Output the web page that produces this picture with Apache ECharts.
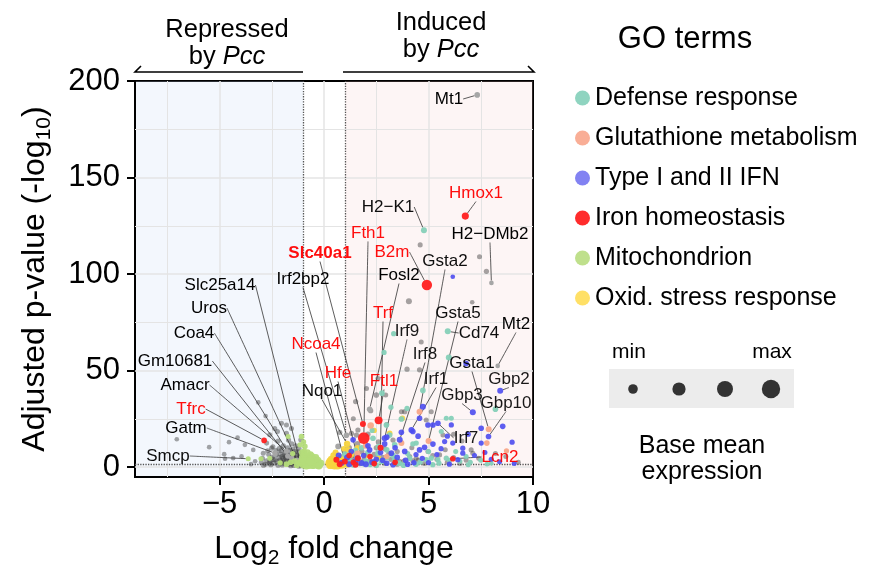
<!DOCTYPE html>
<html><head><meta charset="utf-8">
<script src="https://cdn.jsdelivr.net/npm/echarts@6.0.0/dist/echarts.min.js"></script>
<style>html,body{margin:0;padding:0;background:#fff}#c{width:875px;height:574px}</style>
</head><body><div id="c"></div>
<script>
// ---------- DATA: [log2FC, -log10 padj, log10 base mean] ----------
const otherPts = [
 [-7.05,14.4,1.3],[-5.5,10.3,1.3],[-4.55,12.9,1.3],[-4.14,15.3,1.3],[-3.79,11.5,1.3],[-3.39,8.9,1.3],[-4.78,6.7,1.3],[-4.74,4.3,1.3],[-3.95,5.5,1.3],[-4.35,4.6,1.3],
 [-3.15,33.5,1.3],[-2.8,26.4,1.3],[-2.6,16.7,1.5],[-2.36,20,1.5],[-2.04,22.7,1.5],[-2.23,18.4,1.5],[-1.8,17.5,1.5],[-1.56,20,1.5],[-2.51,9.8,1.5],[-2.75,12.4,1.5],
 [-2.91,7.2,1.5],[-1.8,21.8,1.5],[-2.2,13.5,1.6],[-1.95,11,1.6],[-1.7,14,1.6],[-1.5,9,1.8],[-3.3,3,1.3],[-3.5,1.5,1.3],[-2.95,4.5,1.5],[-2.65,6.5,1.5],
 [-2.15,9.5,1.6],[-1.95,3,1.8],[-1.6,0.8,1.8],[-1.05,3,1.8],[-1.1,1,1.8],[-3.0,2.5,1.5],[-2.8,1.5,1.5],[-2.6,3,1.6],[-2.5,5,1.6],[-2.4,2,1.6],
 [-2.3,6.5,1.6],[-2.2,1,1.6],[-2.1,3.5,1.8],[-2.0,5.5,1.8],[-1.9,2,1.8],[-1.85,7.5,1.8],[-1.8,4,1.8],[-1.7,1.5,1.8],[-1.65,6,1.8],[-1.6,3,1.8],
 [-1.5,5,1.8],[-1.45,1,1.8],[-1.4,8,1.8],[-1.35,2,1.8],[-1.3,6,1.8],[-1.25,1.2,1.8],[-1.2,4.5,1.8],[-1.15,2.5,1.8],[-1.1,7,1.8],[-2.7,8.5,1.5],
 [-2.45,10.5,1.5],[-2.05,8.5,1.6],[-1.75,10,1.6],[-1.55,12,1.6],[-1.35,11,1.6],[-1.2,9.5,1.6],[-1.11,14.1,1.6],[-2.55,1.2,1.6],[-2.35,3.8,1.6],[-1.15,5.8,1.8],
 [-1.4,4.2,1.8],[-1.85,5.2,1.8],[-2.1,6.8,1.6],
 [-2.9,1,1.6],[-2.75,3.2,1.6],[-2.45,4,1.7],[-2.25,2.8,1.7],[-2.0,1.2,1.8],[-1.95,4.5,1.8],[-1.75,3,1.8],[-1.55,1.8,1.8],[-1.45,6.8,1.8],[-1.3,4.8,1.8],
 [-1.2,0.6,1.8],[-1.65,8.5,1.7],[-1.9,6.2,1.7],[-2.3,8.5,1.6],[-2.05,2.2,1.8],[-1.5,3.8,1.8],[-1.25,7.8,1.8],[-1.7,4.8,1.8],[-2.15,4.8,1.7],[-2.6,2,1.6],
 [4.6,115.1,1.5],[7.44,108.9,1.5],[7.77,101.4,1.6],[4.06,85.9,2],[7.09,85.4,1.3],[3.97,50.7,1.6],[4.57,50.4,1.6],[2.58,45.9,1.5],[2.5,37.3,1.8],[2.95,37.3,1.5],
 [1.51,33.9,1.6],[2.23,29.2,1.6],[2.03,40.7,1.5],[1.62,19.2,1.6],[1.55,16.6,1.6],[1.31,17.5,1.6],[0.67,10.7,1.8],[3.86,28.7,1.6],[3.7,28.7,1.5],[5.13,28.7,1.5],
 [4.89,24.4,1.5],[5.69,16.6,1.5],[7.04,8.9,1.5],[7.12,7.2,1.5],[4.97,8.1,1.5],[5.53,6.3,1.5],[4.41,4.6,1.5],[4.25,3.2,1.5],[2.42,2.9,1.5],[4.65,64.8,1.5],
 [1.0,8,1.8],[1.2,10,1.8],[1.5,6,1.8],[1.8,8,1.8],[2.2,3,1.8],[2.5,10,1.6],[2.8,5,1.6],[3.2,4,1.6],[3.5,8,1.6],[3.8,3,1.6],
 [4.2,10,1.5],[4.5,3.5,1.5],[5.2,6,1.5],[5.8,9,1.5],[6.2,5,1.5],[6.8,3.5,1.5],[7.4,4.5,1.5],[8.2,7,1.5],[0.8,4,1.8],[1.6,12,1.8],
 [2.1,17,1.6],[2.6,13,1.6],[3.0,22,1.5],[1.4,25,1.5],[0.75,18,1.6],[1.1,3,2],[1.7,2,2],[2.9,2,1.6],[3.5,1.5,1.6],[6.6,13.5,1.5],
 [8.7,5.5,1.5],[9.3,2.5,1.4],[5.9,2.5,1.5],[3.3,14,1.6],[6.2,17,1.5],
 [1.3,4.5,1.8],[1.9,3.5,1.7],[2.4,6.5,1.7],[3.1,7,1.6],[3.6,3,1.6],[4.1,5.5,1.5],[4.8,1.8,1.5],[5.4,4,1.5],[6.5,1.8,1.5],[2.9,9.5,1.6]
];
const mitoPts = [
 [-3.02,4.3,1.5],[-1.08,15.8,1.8],[-0.92,10.7,1.8],[-1.72,15.8,1.5],[-1.0,1,2.5],[-0.9,3,3],[-0.8,1.5,3],[-0.7,4,3],[-0.6,2,3],[-0.5,1,2.8],
 [-0.45,3,2.5],[-0.35,1.5,2.5],[-0.3,0.8,2.5],[-0.2,1.2,2.2],[-0.85,5.5,2.5],[-0.65,6.5,2.2],[-0.75,2.5,3],[-0.55,4.5,2.5],[-0.4,2.2,2.5],[-1.05,5,2.2],
 [-1.2,2,2],[-1.4,3,2],[-1.6,2.5,1.8],[-1.8,1.5,1.8],[-2.1,2.2,1.6],[-0.95,8,2],[-1.3,1,2],[-0.25,2.8,2],[-1.15,11.5,1.6],[-0.98,13,1.6],
 [-2.6,4.5,1.5],[0.9,3,1.5],[1.4,2,1.5],[-1.5,7,1.6],
 [-1.1,2.5,2.8],[-1.0,4,2.8],[-0.95,6.5,2.6],[-0.85,0.8,3],[-0.7,1.2,3.2],[-0.6,5.5,2.8],[-0.5,3.5,3],[-0.4,5,2.5],[-0.3,3.5,2.6],[-0.15,2,2.4],
 [-1.05,7.5,2.4],[-0.8,7.5,2.4],[-0.55,1.2,3.2],[-0.25,0.6,2.6],[-0.65,3,3.2]
];
const oxidPts = [
 [0.3,1,3],[0.4,2.5,3.5],[0.5,0.8,3],[0.6,3.5,2.8],[0.7,1.5,2.8],[0.35,4,2.5],[0.8,5,2.2],[0.9,2,2.2],[1.0,4,2.2],[0.45,6,2.2],
 [0.95,9.5,1.8],[1.15,8.9,1.8],[3.14,17.5,1.8],[3.75,25.3,1.8],[1.6,10,1.8],[2.0,6,1.8],[1.3,6.5,2],[2.6,5,1.5],[1.25,2.5,2],[0.55,7.5,2],[2.4,19,1.6],
 [0.25,2,3],[0.55,2.2,3.2],[0.65,0.8,3],[0.75,3,2.8],[0.85,1,2.6],[0.3,3,3],[0.45,1.5,3.3],[1.1,1.3,2.2]
];
const defensePts = [
 [5.97,56.7,2],[8.2,30,1.8],[3.33,69.1,1.6],[2.87,59.4,1.6],[4.73,39.7,1.8],[2.77,38.3,1.8],[5.85,25.3,1.5],[6.09,25.3,1.5],[5.61,18.4,1.5],[4.41,12.4,1.6],
 [5.13,4.6,1.6],[5.85,4.6,1.6],[5.45,3.8,1.6],[4.89,3.8,1.6],[3.7,24.9,1.8],[3.97,30.4,1.6],[2.98,21.8,1.8],[3.14,16.6,1.8],[2.34,14.9,1.8],[3.38,11.5,1.8],
 [2.58,7.2,1.8],[4.09,4.6,1.8],[3.38,3.8,1.8],[2.74,2.9,1.8],[6.5,3,1.5],[7.0,2.5,1.5],[5.5,2,1.6],[4.0,7,1.6],[3.0,9,1.8],[2.0,3,2],
 [1.5,8.5,1.8],[1.2,3.5,2],[3.6,2,1.8],[4.6,2.5,1.6],[5.0,8,1.6],[6.8,5.5,1.5],[7.5,3.5,1.5],[3.2,31,1.6],[2.3,19,1.6],[1.8,10,1.8],
 [4.25,12,1.6],[1.6,5.5,2],[2.2,1.5,2],[3.0,5,1.8],[6.3,8,1.5],[8.0,2,1.4],
 [1.0,6.5,2],[1.4,1.2,2],[1.9,1.8,2],[2.5,1,1.9],[3.3,6,1.8],[3.8,1,1.8],[4.4,1.5,1.7],[5.2,1.2,1.6],[6.0,3.5,1.5],[6.9,1.2,1.5],
 [7.8,1.5,1.4],[2.1,7.5,1.8],[2.6,10.5,1.8]
];
const glutPts = [
 [2.23,21.5,2.3],[3.7,12.4,2],[7.79,12.4,1.8],[8.73,8.4,1.6],[2.0,11,2],[1.6,7,2],[3.0,5.5,1.8]
];
const ifnPts = [
 [6.16,98.6,1.3],[6.8,53.6,1.8],[8.55,21.1,1.8],[7.52,20.1,1.8],[4.73,31.3,2],[4.57,25.3,1.8],[4.97,21.8,1.8],[6.09,21.8,1.6],[5.77,13.2,1.6],[6.16,12.4,1.6],
 [6.64,9.8,1.6],[6.64,7.2,1.6],[7.52,12.4,1.6],[9.0,12.9,1.6],[4.25,18.4,1.8],[5.21,11.9,1.8],[4.81,10.2,1.8],[4.57,8.9,1.8],[1.39,14.1,1.8],[3.22,7.2,1.8],
 [3.86,8.1,1.8],[2.18,8.9,1.8],[0.83,2.1,2],[1.79,2.1,2],[1.1,5,2],[1.5,3,2],[2.0,1.5,2],[2.5,4,1.8],[3.0,2,1.8],[3.5,5,1.8],
 [4.0,1.5,1.8],[2.7,7.5,1.8],[1.3,8,1.8],[0.7,6,2],[3.4,10,1.8],[4.4,6.5,1.6],[5.0,2.3,1.6],[6.0,1.5,1.6],[7.2,6,1.5],[8.0,4,1.5],
 [9.1,1.8,1.5],[5.21,21.8,1.8],[2.9,12,1.8],[4.5,16,1.8],[5.6,9.5,1.6],[3.7,18,1.8],[1.9,6,1.8],
 [1.2,1.5,2],[1.6,4.5,2],[2.3,2.5,1.9],[2.8,3.5,1.8],[3.3,1.2,1.8],[3.9,3.5,1.8],[4.3,2.2,1.7],[4.7,4.5,1.7],[5.4,6.5,1.6],[6.4,3.8,1.6],
 [7.7,7.5,1.5],[8.4,2.8,1.5],[2.1,11,1.8],[3.0,15.5,1.8],[5.9,16,1.6],[6.9,17,1.6]
];
const ironPts = [
 [1.2,6,1.8],[2.2,5.5,1.8],[1.4,2.5,1.8],[0.59,3.8,2],[0.75,1.5,2],[1.5,1.2,2],[2.4,1.8,1.8],[3.4,2.5,1.8]
];
// labelled genes: [name, category, log2FC, -log10 padj, log10 base mean]
const genes = [
 ['Mt1','other',7.33,192.8,1.8],['Hmox1','iron',6.76,130,2.6],['H2−K1','defense',4.78,122.7,2],['H2−DMb2','other',8.01,95.4,1.3],
 ['B2m','iron',4.92,94.3,4.3],['Fth1','iron',1.9,15,5],['Slc40a1','iron',1.86,22.3,2],['Ftl1','iron',2.61,24.2,3],
 ['Tfrc','iron',-2.87,13.8,1.8],['Lcn2','iron',6.16,4.3,1.8],['Trf','iron',2.7,10,2],['Hfe','iron',1.62,4.6,2],['Ncoa4','iron',0.99,2.9,2],
 ['Nqo1','oxid',1.1,12,2.2],['Irf2bp2','other',1.07,16.5,1.8],['Fosl2','other',2.18,29.9,1.8],
 ['Gsta2','glut',4.57,28.7,2],['Gsta5','glut',5.0,13.5,2],['Gsta1','glut',7.88,19.6,2],['Cd74','defense',5.92,70.3,2],['Mt2','other',8.31,52.4,1.3],
 ['Gbp2','ifn',8.43,39.5,2],['Gbp3','ifn',7.12,28.4,2],['Gbp10','ifn',7.87,15.8,1.8],['Irf7','ifn',5.45,22.7,1.8],['Irf1','ifn',4.18,19.2,2],
 ['Irf8','ifn',3.62,14.1,2],['Irf9','ifn',2.9,14.9,2],
 ['Slc25a14','other',-1.16,3.1,1.5],['Uros','other',-1.3,3.6,1.5],['Coa4','other',-1.55,4.6,1.6],['Gm10681','other',-1.74,5.7,1.6],
 ['Amacr','other',-1.8,8.2,1.6],['Gatm','other',-2.35,7.2,1.6],['Smcp','mito',-3.63,4.3,1.5]
];
const redLabels = ['Hmox1','B2m','Fth1','Slc40a1','Ftl1','Tfrc','Lcn2','Trf','Hfe','Ncoa4'];
const categories = ['Defense response','Glutathione metabolism','Type I and II IFN','Iron homeostasis','Mitochondrion','Oxid. stress response'];
const xTicks = [-5,0,5,10];
const yTicks = [0,50,100,150,200];
const xGridVals = [-7.5,-5,-2.5,0,2.5,5,7.5];
const yGridVals = [0,25,50,75,100,125,150,175];
const fcCut = 1, padjCut = 1.3;

// ---------- LAYOUT (label pixel positions) ----------
const labelAt = {
 'Mt1':[449,99],'Hmox1':[476,193],'H2−K1':[388,207],'H2−DMb2':[490,234],'Fth1':[368,233],'B2m':[392,252],'Gsta2':[445,261],
 'Fosl2':[399,275],'Slc40a1':[320,253],'Irf2bp2':[303,279],'Slc25a14':[220,285],'Uros':[209,308],'Coa4':[194,333],'Gm10681':[175,361],
 'Amacr':[185,385],'Tfrc':[191,409],'Gatm':[186,428],'Smcp':[168,456],'Ncoa4':[316,344],'Hfe':[338,373],'Nqo1':[322,391],
 'Trf':[383,313],'Irf9':[407,331],'Irf8':[425,354],'Ftl1':[384,381],'Irf1':[436,379],'Gsta5':[458,313],'Cd74':[479,333],
 'Mt2':[516,324],'Gsta1':[472,363],'Gbp2':[509,379],'Gbp3':[462,395],'Gbp10':[506,403],'Irf7':[466,438],'Lcn2':[500,457]
};
const FONT = 'Liberation Sans, Arial, Helvetica, sans-serif';
const cats = [
 {key:'other', name:'Other', color:'#3a3a3a', opacity:0.45, labColor:'#a6a6a6', pts:otherPts},
 {key:'mito', name:categories[4], color:'#b4dc7a', opacity:0.95, pts:mitoPts, legend:'#bfe08c'},
 {key:'oxid', name:categories[5], color:'#f7d43e', opacity:0.95, pts:oxidPts, legend:'#ffe066'},
 {key:'defense', name:categories[0], color:'#86d0b8', opacity:0.95, pts:defensePts, legend:'#8fd4c0'},
 {key:'glut', name:categories[1], color:'#f8a688', opacity:0.95, pts:glutPts, legend:'#f9ae96'},
 {key:'ifn', name:categories[2], color:'#4d4def', opacity:0.9, pts:ifnPts, legend:'#8282f2'},
 {key:'iron', name:categories[3], color:'#ff1f1f', opacity:0.95, pts:ironPts, legend:'#ff2c2c'}
];

function labelLayout(p){
  const pos = labelAt[p.text];
  if(!pos) return {};
  return {x:pos[0], y:pos[1], align:'center', verticalAlign:'middle'};
}

const series = [];
series.push({
  type:'scatter', data:[], silent:true, z:1,
  markArea:{silent:true, z:0, itemStyle:{borderWidth:0}, data:[
    [{xAxis:-9.05, itemStyle:{color:'rgba(200,218,245,0.22)'}},{xAxis:-fcCut}],
    [{xAxis:fcCut, itemStyle:{color:'rgba(245,200,200,0.18)'}},{xAxis:10}]
  ]},
  markLine:{silent:true, z:1, symbol:['none','none'], label:{show:false},
    lineStyle:{color:'#e4e4e4', width:1, type:'solid'},
    data: xGridVals.map(v=>({xAxis:v, lineStyle:{width: v%5===0?1.5:1}}))
      .concat(yGridVals.map(v=>({yAxis:v, lineStyle:{width: v%50===0?1.5:1}})))
  }
});
series.push({
  type:'scatter', data:[], silent:true, z:1,
  markLine:{silent:true, z:1.5, symbol:['none','none'], label:{show:false},
    lineStyle:{color:'#555', width:1.3, type:'dotted'},
    data:[{xAxis:-fcCut},{xAxis:fcCut},{yAxis:padjCut}]}
});
cats.forEach(c=>{
  const data = c.pts.map(p=>({value:p}));
  genes.filter(g=>g[1]===c.key).forEach(g=>{
    const item = {name:g[0], value:[g[2],g[3],g[4]],
      label:{show:true, color: redLabels.includes(g[0])?'#ff0000':'#000', fontWeight: g[0]==='Slc40a1'?'bold':'normal'}};
    if(c.key==='other') item.itemStyle = {color:c.labColor, opacity:1};
    data.push(item);
  });
  series.push({
    type:'scatter', name:c.name, z:3, silent:true,
    symbolSize: v=>2.2+1.9*v[2],
    itemStyle:{color:c.color, opacity:c.opacity},
    label:{show:false, formatter:'{b}', fontSize:17, color:'#000', fontFamily:FONT},
    labelLine:{show:true, smooth:0.2, lineStyle:{color:'#333', width:0.8}},
    labelLayout: labelLayout,
    emphasis:{disabled:true},
    data: data
  });
});

const chart = echarts.init(document.getElementById('c'), null, {renderer:'canvas'});
const minus = v => String(v).replace('-', '−');
chart.setOption({
  animation:false,
  textStyle:{fontFamily:FONT},
  grid:{left:135, right:342, top:81, bottom:95, show:true, borderColor:'#000', borderWidth:2, backgroundColor:'#fff'},
  xAxis:{type:'value', min:-9.05, max:10,
    axisLine:{show:true, onZero:false, lineStyle:{color:'#000', width:2}},
    axisTick:{show:true, length:8, lineStyle:{color:'#000', width:2}, customValues:xTicks},
    axisLabel:{fontSize:31, color:'#000', margin:12, customValues:xTicks, formatter:minus, fontFamily:FONT},
    splitLine:{show:false},
    name:'Log{sub|2} fold change', nameLocation:'middle', nameGap:52,
    nameTextStyle:{fontSize:32, color:'#000', fontFamily:FONT, lineHeight:40,
      rich:{sub:{fontSize:21, verticalAlign:'bottom', lineHeight:40, fontFamily:FONT, color:'#000'}}}
  },
  yAxis:{type:'value', min:-5.15, max:200,
    axisLine:{show:true, onZero:false, lineStyle:{color:'#000', width:2}},
    axisTick:{show:true, length:8, lineStyle:{color:'#000', width:2}, customValues:yTicks},
    axisLabel:{fontSize:31, color:'#000', margin:15, customValues:yTicks, fontFamily:FONT},
    splitLine:{show:false},
    name:'Adjusted p-value (-log{sub|10})', nameLocation:'middle', nameGap:80, nameRotate:90,
    nameTextStyle:{fontSize:32, color:'#000', fontFamily:FONT, lineHeight:40,
      rich:{sub:{fontSize:21, verticalAlign:'bottom', lineHeight:40, fontFamily:FONT, color:'#000'}}}
  },
  legend:{orient:'vertical', left:570, top:80.5, itemWidth:15, itemHeight:15, itemGap:15, icon:'circle',
    selectedMode:false,
    textStyle:{fontSize:25, lineHeight:25, color:'#000', fontFamily:FONT},
    data: categories.map(n=>{const c=cats.find(k=>k.name===n); return {name:n, itemStyle:{color:c.legend, opacity:1}};})
  },
  graphic:[
    {type:'text', style:{text:'GO terms', x:685, y:39, align:'center', verticalAlign:'middle', fontSize:31, fontFamily:FONT, fill:'#000'}},
    {type:'text', style:{text:'Repressed\nby {i|Pcc}', x:227, y:43, align:'center', verticalAlign:'middle', fontSize:25.5, lineHeight:27, fontFamily:FONT, fill:'#000',
      rich:{i:{fontStyle:'italic', fontSize:25.5, lineHeight:27, fontFamily:FONT, fill:'#000'}}}},
    {type:'text', style:{text:'Induced\nby {i|Pcc}', x:441, y:36, align:'center', verticalAlign:'middle', fontSize:25.5, lineHeight:27, fontFamily:FONT, fill:'#000',
      rich:{i:{fontStyle:'italic', fontSize:25.5, lineHeight:27, fontFamily:FONT, fill:'#000'}}}},
    {type:'polyline', shape:{points:[[141,66],[135,72],[303,72]]}, style:{stroke:'#000', lineWidth:1.6, fill:null}},
    {type:'polyline', shape:{points:[[343,72],[534,72],[528,66]]}, style:{stroke:'#000', lineWidth:1.6, fill:null}},
    {type:'text', style:{text:'min', x:629, y:352, align:'center', verticalAlign:'middle', fontSize:21, fontFamily:FONT, fill:'#000'}},
    {type:'text', style:{text:'max', x:772, y:352, align:'center', verticalAlign:'middle', fontSize:21, fontFamily:FONT, fill:'#000'}},
    {type:'rect', shape:{x:609, y:369, width:185, height:39}, style:{fill:'#ececec'}},
    {type:'circle', shape:{cx:633, cy:389, r:4.8}, style:{fill:'#333'}},
    {type:'circle', shape:{cx:679, cy:389, r:6.6}, style:{fill:'#333'}},
    {type:'circle', shape:{cx:725, cy:389, r:8}, style:{fill:'#333'}},
    {type:'circle', shape:{cx:771, cy:389, r:9.2}, style:{fill:'#333'}},
    {type:'text', style:{text:'Base mean\nexpression', x:702, y:459, align:'center', verticalAlign:'middle', fontSize:25, lineHeight:26, fontFamily:FONT, fill:'#000'}}
  ],
  series: series
});
</script></body></html>
